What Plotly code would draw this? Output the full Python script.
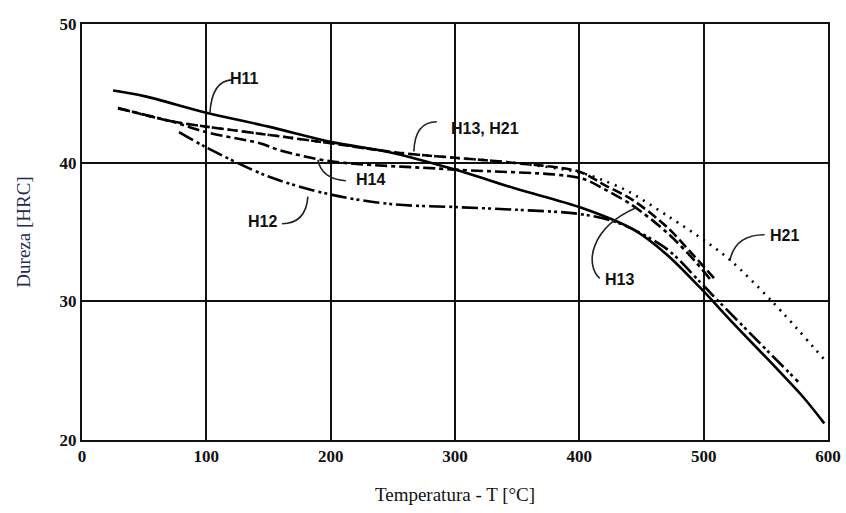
import plotly.graph_objects as go

# Tempering temperature (°C) and hardness (HRC) for hot-work tool steels
h11_t = [25, 50, 100, 150, 200, 250, 300, 350, 400, 443, 470, 497, 525, 555, 580, 597]
h11_hrc = [45.2, 44.8, 43.6, 42.6, 41.5, 40.7, 39.5, 38.1, 36.8, 35.2, 33.4, 31.0, 28.3, 25.5, 23.1, 21.2]

h12_t = [78, 100, 150, 200, 250, 300, 350, 400, 430, 470, 497, 512, 545, 576]
h12_hrc = [42.2, 41.1, 39.0, 37.7, 37.0, 36.8, 36.6, 36.3, 35.7, 33.8, 31.4, 30.0, 27.0, 24.2]

h13_t = [29, 71, 100, 159, 200, 256, 300, 346, 400, 420, 443, 470, 491, 510]
h13_hrc = [43.95, 43.0, 42.6, 41.9, 41.4, 40.7, 40.35, 40.0, 39.35, 38.4, 37.3, 35.4, 33.4, 31.5]

h14_t = [29, 71, 100, 143, 159, 200, 300, 400, 420, 443, 470, 491, 506]
h14_hrc = [43.9, 43.0, 42.2, 41.4, 40.9, 40.1, 39.5, 38.9, 38.1, 36.9, 35.0, 33.1, 31.5]

h21_t = [29, 71, 100, 159, 200, 256, 300, 346, 400, 420, 440, 472, 502, 521, 555, 599]
h21_hrc = [43.95, 43.0, 42.6, 41.9, 41.4, 40.7, 40.35, 40.0, 39.3, 38.7, 37.9, 36.1, 34.3, 33.0, 30.0, 25.6]

x_ticks = [0, 100, 200, 300, 400, 500, 600]
y_ticks = [20, 30, 40, 50]

series = [
    ("H21", h21_t, h21_hrc, "2px,6px"),
    ("H12", h12_t, h12_hrc, "16px,4px,3px,3px,3px,4px"),
    ("H14", h14_t, h14_hrc, "12px,4px,4px,4px"),
    ("H13", h13_t, h13_hrc, "10px,4px"),
    ("H11", h11_t, h11_hrc, "solid"),
]

fig = go.Figure()
for name, t, hrc, dash in series:
    fig.add_trace(go.Scatter(
        x=t, y=hrc, mode="lines", name=name,
        line=dict(color="black", width=2.6, dash=dash, shape="spline", smoothing=0.9),
        showlegend=False, hoverinfo="skip",
    ))

label_font = dict(family="Liberation Sans", size=16, color="#111", weight="bold")

# Curve labels: (text, x, y)
labels = [
    ("H11", 131, 46.1),
    ("H13, H21", 324, 42.5),
    ("H14", 232, 38.8),
    ("H12", 145.5, 35.75),
    ("H13", 432.5, 31.6),
    ("H21", 565, 34.75),
]
for text, x, y in labels:
    fig.add_annotation(x=x, y=y, text=text, showarrow=False, font=label_font,
                       xanchor="center", yanchor="middle")

# Curved leader lines from labels to curves
leaders = [
    "M 120.6,45.97 Q 104.5,45.9 102.9,43.6",
    "M 285.4,42.95 Q 267.7,42.95 266.9,40.8",
    "M 212.2,38.7 Q 192.9,38.8 189.7,40.2",
    "M 160.8,35.6 Q 180,35.6 181.7,37.55",
    "M 416.4,31.65 C 404.3,32.66 408.4,35.3 446.1,36.76",
    "M 549,34.8 Q 525,34.8 521,32.9",
]
for p in leaders:
    fig.add_shape(type="path", path=p, xref="x", yref="y",
                  line=dict(color="#222", width=1.6))

tick_font = dict(family="Liberation Sans Narrow", size=17, color="#111", weight="bold")

fig.update_xaxes(
    range=[0, 600], tickvals=x_ticks, ticktext=[str(v) for v in x_ticks],
    showgrid=True, gridcolor="#111", gridwidth=1.5,
    showline=True, linecolor="#111", linewidth=2, mirror=True,
    zeroline=False, ticks="", tickfont=tick_font, automargin=False,
    title=dict(text="Temperatura - T [°C]",
               font=dict(family="Liberation Serif", size=19, color="#111"),
               standoff=22),
)
fig.update_yaxes(
    range=[20, 50], tickvals=y_ticks, ticktext=[str(v) for v in y_ticks],
    showgrid=True, gridcolor="#111", gridwidth=1.5,
    showline=True, linecolor="#111", linewidth=2, mirror=True,
    zeroline=False, ticks="", tickfont=tick_font, automargin=False,
    title=dict(text="Dureza [HRC]",
               font=dict(family="Liberation Serif", size=19, color="#1c2b4f"),
               standoff=24),
)

fig.update_layout(
    width=846, height=513,
    margin=dict(l=82, r=18, t=24, b=73),
    paper_bgcolor="white", plot_bgcolor="white",
)

fig.write_html("out.html")
